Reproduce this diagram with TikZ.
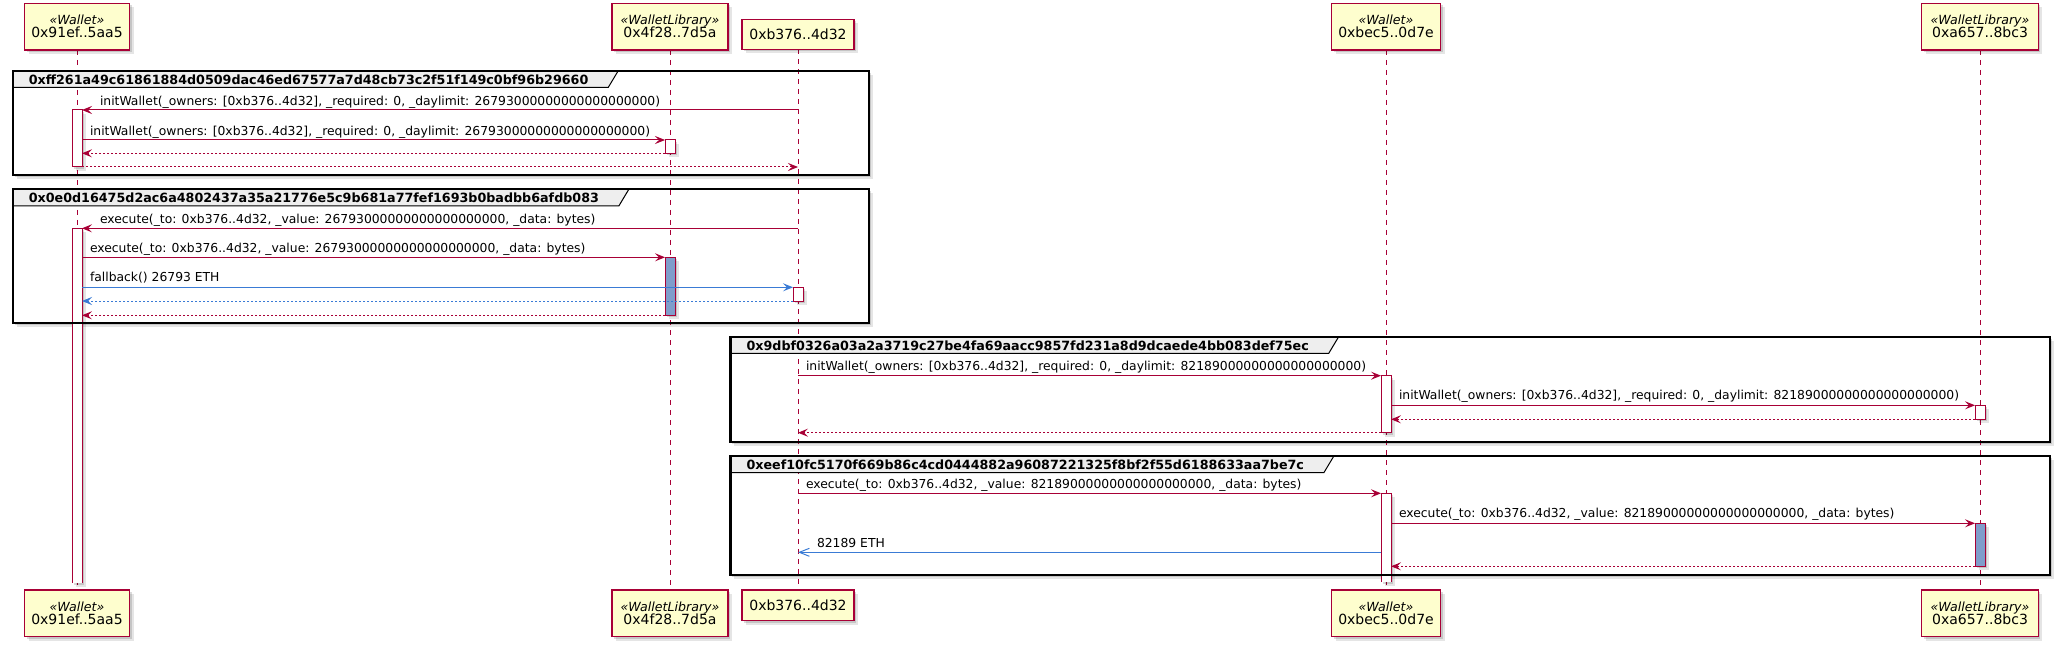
\documentclass[tikz,border=0pt]{standalone}
\usepackage{fontspec}
\setmainfont{DejaVu Sans}[ItalicFont={DejaVu Sans Oblique},BoldFont={DejaVu Sans Bold},BoldItalicFont={DejaVu Sans Bold Oblique}]
\usetikzlibrary{arrows.meta,calc,shadows}
\pgfdeclarelayer{lzero}\pgfdeclarelayer{lone}\pgfdeclarelayer{ltwo}
\pgfsetlayers{lzero,lone,ltwo,main}
\definecolor{crim}{HTML}{A80036}
\definecolor{partfill}{HTML}{FEFECE}
\definecolor{tabfill}{HTML}{EEEEEE}
\definecolor{actblue}{HTML}{7F9DCB}
\definecolor{arrblue}{HTML}{3A7BD5}
\newcommand{\stereotxt}[1]{{\fontsize{12.6}{13.3}\selectfont\itshape «#1»}}
\tikzset{
 shad/.style={general shadow={fill=black,opacity=.10,shadow xshift=4pt,shadow yshift=-4pt},
              general shadow={fill=black,opacity=.14,shadow xshift=2pt,shadow yshift=-2pt}},
 part/.style={shad,draw=crim,fill=partfill,line width=1.3pt,inner sep=0pt,outer sep=0pt,align=center,font=\fontsize{14}{13.3}\selectfont},
 act/.style={shad,draw=crim,fill=white,line width=1pt,inner sep=0pt,outer sep=0pt,minimum width=10pt},
 actb/.style={act,fill=actblue},
 actfill/.style={shad,fill=white,inner sep=0pt,outer sep=0pt,minimum width=10pt},
 actside/.style={draw=crim,line width=1pt},
 life/.style={draw=crim,line width=1pt,dash pattern=on 5pt off 5pt},
 msg/.style={draw=crim,line width=1pt,-{Stealth[length=10pt,width=8pt,inset=4pt]}},
 ret/.style={msg,dash pattern=on 2pt off 2pt},
 bmsg/.style={msg,draw=arrblue},
 bret/.style={ret,draw=arrblue},
 bopen/.style={draw=arrblue,line width=1pt,-{Straight Barb[length=10pt,width=8pt]}},
 lbl/.style={anchor=base west,inner sep=0pt,outer sep=0pt,font=\fontsize{12.35}{14}\selectfont},
 ttl/.style={anchor=base west,inner sep=0pt,outer sep=0pt,font=\fontsize{12.7}{14}\selectfont\bfseries},
 tab/.style={fill=tabfill,draw=black,line width=1pt},
 frm/.style={draw=black,line width=2.2pt},
 frmfill/.style={fill=white,shad},
}
\begin{document}
\begin{tikzpicture}[x=1pt,y=-1pt]
\useasboundingbox (0,0) rectangle (2059,647);
% participants (top)
\node[part,minimum width=105pt,minimum height=46.7pt] (topA) at (77,26.65) {\stereotxt{Wallet}\\0x91ef..5aa5};
\node[part,minimum width=116pt,minimum height=46.7pt] (topB) at (670,26.65) {\stereotxt{WalletLibrary}\\0x4f28..7d5a};
\node[part,minimum width=112pt,minimum height=30pt] (topC) at (798,34.3) {0xb376..4d32};
\node[part,minimum width=109pt,minimum height=46.7pt] (topD) at (1386,26.65) {\stereotxt{Wallet}\\0xbec5..0d7e};
\node[part,minimum width=116.5pt,minimum height=46.7pt] (topE) at (1980,26.65) {\stereotxt{WalletLibrary}\\0xa657..8bc3};
% participants (bottom)
\node[part,minimum width=105pt,minimum height=46.7pt] (botA) at (77,613.35) {\stereotxt{Wallet}\\0x91ef..5aa5};
\node[part,minimum width=116pt,minimum height=46.7pt] (botB) at (670,613.35) {\stereotxt{WalletLibrary}\\0x4f28..7d5a};
\node[part,minimum width=112pt,minimum height=30.7pt] (botC) at (798,605.35) {0xb376..4d32};
\node[part,minimum width=109pt,minimum height=46.7pt] (botD) at (1386,613.35) {\stereotxt{Wallet}\\0xbec5..0d7e};
\node[part,minimum width=116.5pt,minimum height=46.7pt] (botE) at (1980,613.35) {\stereotxt{WalletLibrary}\\0xa657..8bc3};

% frame corners
\coordinate (fnw1) at (12.6,70.7);  \coordinate (fse1) at (869,175);
\coordinate (fnw2) at (12.6,189.3); \coordinate (fse2) at (869,323.3);
\coordinate (fnw3) at (730.4,336.7); \coordinate (fse3) at (2050,441.7);
\coordinate (fnw4) at (730.4,456);  \coordinate (fse4) at (2050,575);
\begin{pgfonlayer}{lzero}
\foreach \f in {1,...,4} \path[frmfill] (fnw\f) rectangle (fse\f);
\end{pgfonlayer}
% lifelines
\begin{pgfonlayer}{lone}
\foreach \p in {A,B,C,D,E} \draw[life] (top\p.south) -- (bot\p.north);
\end{pgfonlayer}
% frame titles
\node[ttl] (t1) at ($(fnw1)+(16.2,13.7)$) {0xff261a49c61861884d0509dac46ed67577a7d48cb73c2f51f149c0bf96b29660};
\node[ttl] (t2) at ($(fnw2)+(16.2,13.7)$) {0x0e0d16475d2ac6a4802437a35a21776e5c9b681a77fef1693b0badbb6afdb083};
\node[ttl] (t3) at ($(fnw3)+(16.2,13.9)$) {0x9dbf0326a03a2a3719c27be4fa69aacc9857fd231a8d9dcaede4bb083def75ec};
\node[ttl] (t4) at ($(fnw4)+(16.2,13.7)$) {0xeef10fc5170f669b86c4cd0444882a96087221325f8bf2f55d6188633aa7be7c};
\begin{pgfonlayer}{ltwo}
\foreach \f in {1,...,4}
  \filldraw[tab] (fnw\f) -- ($(t\f.east |- fnw\f)+(30,0)$) -- ($(t\f.east |- fnw\f)+(20,16.7)$) -- ($(fnw\f)+(0,16.7)$) -- cycle;
\end{pgfonlayer}

% activation bars
\node[act,minimum height=57pt] (actA1) at (77,138.5) {};
\node[actfill,minimum height=354.7pt] (actA2) at (77,405.65) {};
\draw[actside] (actA2.south west) |- (actA2.north east) -- (actA2.south east);
\node[act,minimum height=13.3pt] (actB1) at (670,146.65) {};
\node[actb,minimum height=58pt] (actB2) at (670,286.3) {};
\node[act,minimum height=13.7pt] (actC1) at (798,294.15) {};
\node[act,minimum height=57pt] (actD1) at (1386,404.2) {};
\node[actfill,minimum height=88.7pt] (actD2) at (1386,537.65) {};
\draw[actside] (actD2.south west) |- (actD2.north east) -- (actD2.south east);
\node[act,minimum height=14pt] (actE1) at (1980,412.3) {};
\node[actb,minimum height=43pt] (actE2) at (1980,544.8) {};

% frame borders
\foreach \f in {1,...,4} \draw[frm] (fnw\f) rectangle (fse\f);

% frame 1 messages
\draw[msg] (topC |- actA1.north) -- (actA1.north east);
\draw[msg] (actA1.east |- actB1.north) -- (actB1.north west);
\draw[ret] (actB1.south west) -- (actA1.east |- actB1.south);
\draw[ret] (actA1.south east) -- (topC |- actA1.south);
% frame 2 messages
\draw[msg] (topC |- actA2.north) -- (actA2.north east);
\draw[msg] (actA2.east |- actB2.north) -- (actB2.north west);
\draw[bmsg] (actA2.east |- actC1.north) -- (actC1.north west);
\draw[bret] (actC1.south west) -- (actA2.east |- actC1.south);
\draw[ret] (actB2.south west) -- (actA2.east |- actB2.south);
% frame 3 messages
\draw[msg] (topC |- actD1.north) -- (actD1.north west);
\draw[msg] (actD1.east |- actE1.north) -- (actE1.north west);
\draw[ret] (actE1.south west) -- (actD1.east |- actE1.south);
\draw[ret] (actD1.south west) -- (topC |- actD1.south);
% frame 4 messages
\coordinate (m16) at (1386,552.3);
\draw[msg] (topC |- actD2.north) -- (actD2.north west);
\draw[msg] (actD2.east |- actE2.north) -- (actE2.north west);
\draw[bopen] (actD2.west |- m16) -- (topC |- m16);
\draw[ret] (actE2.south west) -- (actD2.east |- actE2.south);

% labels
\node[lbl] (l1) at ($(actA1.north east)+(18,-4.5)$) {initWallet(\_owners: [0xb376..4d32], \_required: 0, \_daylimit: 26793000000000000000000)};
\node[lbl] (l2) at ($(actA1.east |- actB1.north)+(8,-4.5)$) {initWallet(\_owners: [0xb376..4d32], \_required: 0, \_daylimit: 26793000000000000000000)};
\node[lbl] (l5) at ($(actA2.north east)+(18,-5)$) {execute(\_to: 0xb376..4d32, \_value: 26793000000000000000000, \_data: bytes)};
\node[lbl] (l6) at ($(actA2.east |- actB2.north)+(8,-4.5)$) {execute(\_to: 0xb376..4d32, \_value: 26793000000000000000000, \_data: bytes)};
\node[lbl] (l7) at ($(actA2.east |- actC1.north)+(8,-5.5)$) {fallback() 26793 ETH};
\node[lbl] (l10) at ($(topC |- actD1.north)+(8,-5.5)$) {initWallet(\_owners: [0xb376..4d32], \_required: 0, \_daylimit: 82189000000000000000000)};
\node[lbl] (l11) at ($(actD1.east |- actE1.north)+(8,-6)$) {initWallet(\_owners: [0xb376..4d32], \_required: 0, \_daylimit: 82189000000000000000000)};
\node[lbl] (l14) at ($(topC |- actD2.north)+(8,-5)$) {execute(\_to: 0xb376..4d32, \_value: 82189000000000000000000, \_data: bytes)};
\node[lbl] (l15) at ($(actD2.east |- actE2.north)+(8,-6)$) {execute(\_to: 0xb376..4d32, \_value: 82189000000000000000000, \_data: bytes)};
\node[lbl] (l16) at ($(topC |- m16)+(19,-5)$) {82189 ETH};
\end{tikzpicture}
\end{document}
